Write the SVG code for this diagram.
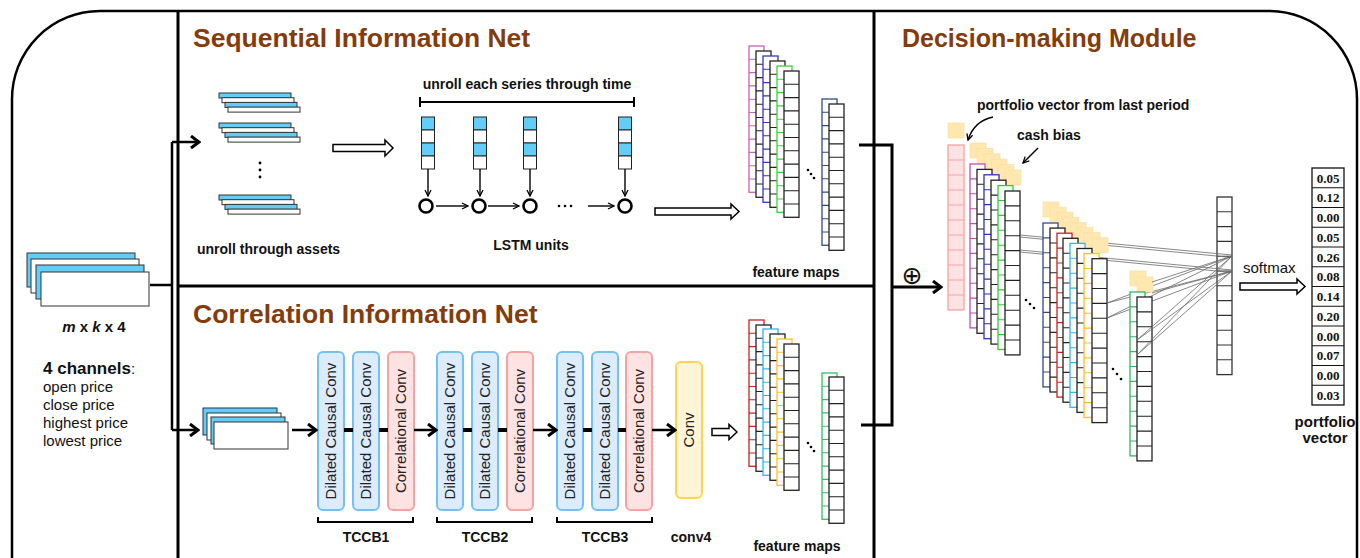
<svg xmlns="http://www.w3.org/2000/svg" xmlns:xlink="http://www.w3.org/1999/xlink" width="1360" height="558" viewBox="0 0 1360 558">
<style>
.t{font-family:"Liberation Sans",Arial,sans-serif;font-weight:bold;font-size:25px;fill:#843C0C}
.b{font-family:"Liberation Sans",Arial,sans-serif;font-weight:bold;font-size:14px;fill:#111}
.n{font-family:"Liberation Sans",Arial,sans-serif;font-size:15px;fill:#111}
.v{font-family:"Liberation Serif","Times New Roman",serif;font-weight:bold;font-size:13px;fill:#111}
.blk{font-family:"Liberation Sans",Arial,sans-serif;font-size:15px;fill:#222}
.cy{fill:#62cdf7;stroke:#333;stroke-width:1}
.wh{fill:#fff;stroke:#333;stroke-width:1}
.dcc{fill:#dcecfc;stroke:#74c0f4;stroke-width:2}
.cor{fill:#ffe2e2;stroke:#f5a3a3;stroke-width:2}
.cv{fill:#fff4d6;stroke:#ffd54f;stroke-width:2}
.sq{fill:#ffe7b0;stroke:#fde0a8;stroke-width:0.8}
.ln{fill:none;stroke:#000;stroke-width:2.5}
.thin{fill:none;stroke:#000;stroke-width:1.4}
.fc{fill:none;stroke:#6a6a6a;stroke-width:0.8}
.ha{fill:#fff;stroke:#000;stroke-width:1.5}
</style>
<defs>
<marker id="ah" viewBox="0 0 12 14" refX="10" refY="7" markerWidth="12" markerHeight="14" markerUnits="userSpaceOnUse" orient="auto"><path d="M2,1 L10,7 L2,13" fill="none" stroke="#000" stroke-width="3"/></marker>
<marker id="ahs" viewBox="0 0 8 8" refX="7" refY="4" markerWidth="8" markerHeight="8" markerUnits="userSpaceOnUse" orient="auto"><path d="M1,1 L7,4 L1,7" fill="none" stroke="#000" stroke-width="1.3"/></marker>
<g id="c11"><rect x="0" y="0" width="15" height="146.3" fill="#fff" stroke="currentColor" stroke-width="1.3"/><path d="M0,13.3H15M0,26.6H15M0,39.9H15M0,53.2H15M0,66.5H15M0,79.8H15M0,93.1H15M0,106.4H15M0,119.7H15M0,133H15" stroke="currentColor" stroke-width="1.1"/></g>
<g id="c11b"><rect x="0" y="0" width="15" height="163.9" fill="#fff" stroke="currentColor" stroke-width="1.3"/><path d="M0,14.9H15M0,29.8H15M0,44.7H15M0,59.6H15M0,74.5H15M0,89.4H15M0,104.3H15M0,119.2H15M0,134.1H15M0,149H15" stroke="currentColor" stroke-width="1.1"/></g>
<rect id="sqr" width="16" height="15" class="sq"/>
</defs>

<rect width="1360" height="558" fill="#fff"/>
<!-- frame -->
<g id="frame">
<rect x="12" y="11" width="1345" height="660" rx="88" fill="none" stroke="#000" stroke-width="2.5"/>
<line x1="178" y1="11" x2="178" y2="558" stroke="#000" stroke-width="3"/>
<line x1="874" y1="11" x2="874" y2="558" stroke="#000" stroke-width="3"/>
<line x1="178" y1="286" x2="874" y2="286" stroke="#000" stroke-width="3"/>
</g>
<text class="t" x="193" y="47" style="font-size:26.5px">Sequential Information Net</text>
<text class="t" x="193" y="323" style="font-size:26.5px">Correlation Information Net</text>
<text class="t" x="902" y="47">Decision-making Module</text>

<!-- input -->
<g id="input">
<rect class="cy" x="27" y="253" width="108" height="34"/>
<rect class="wh" x="31" y="259" width="108" height="34"/>
<rect class="cy" x="36" y="265" width="108" height="34"/>
<rect class="wh" x="41" y="272" width="108" height="34"/>
<text class="b" x="94" y="332" text-anchor="middle" style="font-size:15px"><tspan font-style="italic">m</tspan> x <tspan font-style="italic">k</tspan> x 4</text>
<text class="n" x="43" y="374"><tspan font-weight="bold" font-size="17">4 channels</tspan>:</text>
<text class="n" x="43" y="392">open price</text>
<text class="n" x="43" y="410">close price</text>
<text class="n" x="43" y="428">highest price</text>
<text class="n" x="43" y="446">lowest price</text>
</g>

<!-- sequential net -->
<g id="assets">
<rect class="cy" x="219" y="93" width="72" height="5" stroke-width="0.8"/>
<rect class="wh" x="222" y="97.7" width="72" height="5" stroke-width="0.8"/>
<rect class="cy" x="225" y="102.4" width="72" height="5" stroke-width="0.8"/>
<rect class="wh" x="228" y="107.1" width="72" height="5" stroke-width="0.8"/>
<rect class="cy" x="219" y="123" width="72" height="5" stroke-width="0.8"/>
<rect class="wh" x="222" y="127.7" width="72" height="5" stroke-width="0.8"/>
<rect class="cy" x="225" y="132.4" width="72" height="5" stroke-width="0.8"/>
<rect class="wh" x="228" y="137.1" width="72" height="5" stroke-width="0.8"/>
<circle cx="260" cy="163" r="1.4"/><circle cx="260" cy="170" r="1.4"/><circle cx="260" cy="177" r="1.4"/>
<rect class="cy" x="219" y="195" width="72" height="5" stroke-width="0.8"/>
<rect class="wh" x="222" y="199.7" width="72" height="5" stroke-width="0.8"/>
<rect class="cy" x="225" y="204.4" width="72" height="5" stroke-width="0.8"/>
<rect class="wh" x="228" y="209.1" width="72" height="5" stroke-width="0.8"/>
<text class="b" x="197" y="254">unroll through assets</text>
</g>
<polygon id="harrow1" class="ha" points="333,144.5 385,144.5 385,140 393,148 385,156 385,151.5 333,151.5"/>

<g id="lstm">
<text class="b" x="527" y="89" text-anchor="middle">unroll each series through time</text>
<path d="M420,97V107M420,102H634M634,97V107" fill="none" stroke="#000" stroke-width="2"/>
<g stroke="#222" stroke-width="1">
<rect x="421.5" y="117" width="13" height="13" fill="#62cdf7"/><rect x="421.5" y="130" width="13" height="13" fill="#fff"/><rect x="421.5" y="143" width="13" height="13" fill="#62cdf7"/><rect x="421.5" y="156" width="13" height="13" fill="#fff"/>
<rect x="473.5" y="117" width="13" height="13" fill="#62cdf7"/><rect x="473.5" y="130" width="13" height="13" fill="#fff"/><rect x="473.5" y="143" width="13" height="13" fill="#62cdf7"/><rect x="473.5" y="156" width="13" height="13" fill="#fff"/>
<rect x="523.5" y="117" width="13" height="13" fill="#62cdf7"/><rect x="523.5" y="130" width="13" height="13" fill="#fff"/><rect x="523.5" y="143" width="13" height="13" fill="#62cdf7"/><rect x="523.5" y="156" width="13" height="13" fill="#fff"/>
<rect x="618.5" y="117" width="13" height="13" fill="#62cdf7"/><rect x="618.5" y="130" width="13" height="13" fill="#fff"/><rect x="618.5" y="143" width="13" height="13" fill="#62cdf7"/><rect x="618.5" y="156" width="13" height="13" fill="#fff"/>
</g>
<g fill="#fff" stroke="#000" stroke-width="2.6">
<circle cx="426" cy="206" r="6.5"/><circle cx="479" cy="206" r="6.5"/><circle cx="530" cy="206" r="6.5"/><circle cx="625" cy="206" r="6.5"/>
</g>
<g class="thin" marker-end="url(#ahs)">
<line x1="428" y1="169" x2="428" y2="196"/>
<line x1="480" y1="169" x2="480" y2="196"/>
<line x1="530" y1="169" x2="530" y2="196"/>
<line x1="625" y1="169" x2="625" y2="196"/>
<line x1="436" y1="206" x2="468" y2="206"/>
<line x1="488" y1="206" x2="519" y2="206"/>
<line x1="588" y1="206" x2="614" y2="206"/>
</g>
<circle cx="559" cy="206" r="1.3"/><circle cx="565" cy="206" r="1.3"/><circle cx="571" cy="206" r="1.3"/>
<text class="b" x="531" y="250" text-anchor="middle">LSTM units</text>
</g>
<polygon id="harrow2" class="ha" points="655,208 731,208 731,204 739,211.5 731,219 731,215 655,215"/>

<g id="fmaps1">
<use xlink:href="#c11" x="749" y="46" style="color:#d060b8"/>
<use xlink:href="#c11" x="756" y="51" style="color:#222"/>
<use xlink:href="#c11" x="763" y="56" style="color:#3434c8"/>
<use xlink:href="#c11" x="770" y="61" style="color:#222"/>
<use xlink:href="#c11" x="777" y="66" style="color:#3ad03a"/>
<use xlink:href="#c11" x="784" y="71" style="color:#222"/>
<circle cx="808" cy="170" r="1.3"/><circle cx="811" cy="174" r="1.3"/><circle cx="814" cy="178" r="1.3"/>
<use xlink:href="#c11" x="822" y="99" style="color:#2e4c8c"/>
<use xlink:href="#c11" x="829" y="104" style="color:#222"/>
<text class="b" x="796" y="277" text-anchor="middle">feature maps</text>
</g>

<!-- correlation net -->
<g id="corrIn">
<rect x="203" y="408" width="74" height="27" fill="#62cdf7" stroke="#235" stroke-width="1"/>
<rect class="wh" x="207" y="413" width="74" height="27"/>
<rect class="cy" x="211" y="417" width="74" height="27"/>
<rect class="wh" x="214" y="422" width="74" height="27"/>
</g>
<g id="tccb1">
<rect class="dcc" x="318" y="352" width="26" height="158" rx="5"/>
<rect class="dcc" x="353" y="352" width="26" height="158" rx="5"/>
<rect class="cor" x="388" y="352" width="26" height="158" rx="5"/>
<text class="blk" text-anchor="middle" transform="translate(336,431) rotate(-90)">Dilated Causal Conv</text>
<text class="blk" text-anchor="middle" transform="translate(371,431) rotate(-90)">Dilated Causal Conv</text>
<text class="blk" text-anchor="middle" transform="translate(406,431) rotate(-90)">Correlational Conv</text>
<path d="M318,517V522H413V517" fill="none" stroke="#000" stroke-width="2"/>
<text class="b" x="366" y="542" text-anchor="middle">TCCB1</text>
</g>
<g id="tccb2">
<rect class="dcc" x="437" y="352" width="26" height="158" rx="5"/>
<rect class="dcc" x="472" y="352" width="26" height="158" rx="5"/>
<rect class="cor" x="507" y="352" width="26" height="158" rx="5"/>
<text class="blk" text-anchor="middle" transform="translate(455,431) rotate(-90)">Dilated Causal Conv</text>
<text class="blk" text-anchor="middle" transform="translate(490,431) rotate(-90)">Dilated Causal Conv</text>
<text class="blk" text-anchor="middle" transform="translate(525,431) rotate(-90)">Correlational Conv</text>
<path d="M437,517V522H532V517" fill="none" stroke="#000" stroke-width="2"/>
<text class="b" x="485" y="542" text-anchor="middle">TCCB2</text>
</g>
<g id="tccb3">
<rect class="dcc" x="557" y="352" width="26" height="158" rx="5"/>
<rect class="dcc" x="592" y="352" width="26" height="158" rx="5"/>
<rect class="cor" x="626" y="352" width="26" height="158" rx="5"/>
<text class="blk" text-anchor="middle" transform="translate(575,431) rotate(-90)">Dilated Causal Conv</text>
<text class="blk" text-anchor="middle" transform="translate(610,431) rotate(-90)">Dilated Causal Conv</text>
<text class="blk" text-anchor="middle" transform="translate(644,431) rotate(-90)">Correlational Conv</text>
<path d="M557,517V522H652V517" fill="none" stroke="#000" stroke-width="2"/>
<text class="b" x="605" y="542" text-anchor="middle">TCCB3</text>
</g>
<g id="conv4">
<rect class="cv" x="676" y="362" width="26" height="136" rx="5"/>
<text class="blk" text-anchor="middle" transform="translate(694,430) rotate(-90)">Conv</text>
<text class="b" x="691" y="542" text-anchor="middle">conv4</text>
</g>
<polygon id="harrow3" class="ha" points="712,428.5 729,428.5 729,424.5 737,432 729,439.5 729,435.5 712,435.5"/>

<g id="fmaps2">
<use xlink:href="#c11" x="749" y="320" style="color:#cc2020"/>
<use xlink:href="#c11" x="756" y="325" style="color:#222"/>
<use xlink:href="#c11" x="763" y="329" style="color:#30b4f0"/>
<use xlink:href="#c11" x="770" y="334" style="color:#222"/>
<use xlink:href="#c11" x="777" y="339" style="color:#ffc020"/>
<use xlink:href="#c11" x="784" y="344" style="color:#222"/>
<circle cx="808" cy="443" r="1.3"/><circle cx="811" cy="447" r="1.3"/><circle cx="814" cy="451" r="1.3"/>
<use xlink:href="#c11" x="822" y="373" style="color:#30c060"/>
<use xlink:href="#c11" x="829" y="377" style="color:#222"/>
<text class="b" x="797" y="551" text-anchor="middle">feature maps</text>
</g>

<!-- decision module -->
<g id="lastPV">
<rect class="sq" x="948" y="123" width="16" height="15"/>
<rect x="948" y="145" width="16" height="165" fill="#ffe2e2" stroke="#f5a3a3" stroke-width="1.3"/>
<path d="M948,160H964M948,175H964M948,190H964M948,205H964M948,220H964M948,235H964M948,250H964M948,265H964M948,280H964M948,295H964" stroke="#f5a3a3" stroke-width="1.1"/>
<text class="b" x="977" y="110">portfolio vector from last period</text>
<path d="M993,117 Q974,121 968,140" class="thin" marker-end="url(#ahs)"/>
<text class="b" x="1017" y="140">cash bias</text>
<line x1="1038" y1="148" x2="1023" y2="163" class="thin" marker-end="url(#ahs)"/>
</g>
<g id="group1">
<use xlink:href="#sqr" x="970" y="143"/><use xlink:href="#sqr" x="977" y="148.4"/><use xlink:href="#sqr" x="984" y="153.8"/><use xlink:href="#sqr" x="991" y="159.2"/><use xlink:href="#sqr" x="998" y="164.6"/><use xlink:href="#sqr" x="1005" y="170"/>
<use xlink:href="#c11b" x="970" y="164" style="color:#c050b0"/>
<use xlink:href="#c11b" x="977" y="169.4" style="color:#222"/>
<use xlink:href="#c11b" x="984" y="174.8" style="color:#3030c0"/>
<use xlink:href="#c11b" x="991" y="180.2" style="color:#222"/>
<use xlink:href="#c11b" x="998" y="185.6" style="color:#30cc30"/>
<use xlink:href="#c11b" x="1005" y="191" style="color:#222"/>
<circle cx="1026" cy="300" r="1.3"/><circle cx="1030" cy="304" r="1.3"/><circle cx="1034" cy="308" r="1.3"/>
</g>
<g id="outcol">
<rect x="1217" y="197" width="15" height="177.6" fill="#fff" stroke="#333" stroke-width="1.3"/>
<path d="M1217,211.8H1232M1217,226.6H1232M1217,241.4H1232M1217,256.2H1232M1217,271H1232M1217,285.8H1232M1217,300.6H1232M1217,315.4H1232M1217,330.2H1232M1217,345H1232M1217,359.8H1232" stroke="#333" stroke-width="1.1"/>
</g>
<g id="fc1" class="fc">
<line x1="1020" y1="235" x2="1232" y2="255"/><line x1="1020" y1="237" x2="1232" y2="257.5"/>
<line x1="1020" y1="250" x2="1232" y2="270"/><line x1="1020" y1="252" x2="1232" y2="272.5"/>
</g>
<g id="group2">
<use xlink:href="#sqr" x="1043" y="202"/><use xlink:href="#sqr" x="1050" y="207.1"/><use xlink:href="#sqr" x="1057" y="212.2"/><use xlink:href="#sqr" x="1063" y="217.3"/><use xlink:href="#sqr" x="1070" y="222.4"/><use xlink:href="#sqr" x="1077" y="227.5"/><use xlink:href="#sqr" x="1084" y="232.6"/><use xlink:href="#sqr" x="1092" y="237.7"/>
<use xlink:href="#c11b" x="1043" y="223" style="color:#2e4c8c"/>
<use xlink:href="#c11b" x="1050" y="228.1" style="color:#222"/>
<use xlink:href="#c11b" x="1057" y="233.2" style="color:#cc2020"/>
<use xlink:href="#c11b" x="1063" y="238.3" style="color:#222"/>
<use xlink:href="#c11b" x="1070" y="243.4" style="color:#30b8f0"/>
<use xlink:href="#c11b" x="1077" y="248.5" style="color:#222"/>
<use xlink:href="#c11b" x="1084" y="253.6" style="color:#ffc020"/>
<use xlink:href="#c11b" x="1092" y="258.7" style="color:#222"/>
<circle cx="1113" cy="369" r="1.3"/><circle cx="1117" cy="374" r="1.3"/><circle cx="1121" cy="379" r="1.3"/>
</g>
<g id="fc2" class="fc">
<line x1="1107" y1="303" x2="1232" y2="256"/><line x1="1107" y1="303" x2="1232" y2="271"/>
<line x1="1107" y1="318" x2="1232" y2="256"/><line x1="1107" y1="318" x2="1232" y2="271"/>
</g>
<g id="group3">
<use xlink:href="#sqr" x="1130" y="271"/><use xlink:href="#sqr" x="1137" y="277"/>
<use xlink:href="#c11b" x="1130" y="292" style="color:#30b860"/>
<use xlink:href="#c11b" x="1137" y="297" style="color:#222"/>
</g>
<g id="fc3" class="fc">
<line x1="1137" y1="340" x2="1232" y2="256"/><line x1="1137" y1="340" x2="1232" y2="271"/>
<line x1="1137" y1="355" x2="1232" y2="256"/><line x1="1137" y1="355" x2="1232" y2="271"/>
<line x1="1152" y1="282" x2="1232" y2="256"/><line x1="1152" y1="293" x2="1232" y2="271"/>
</g>

<text class="n" x="1243" y="273">softmax</text>
<polygon id="harrow4" class="ha" points="1240,283 1297,283 1297,279 1305,286.5 1297,294 1297,290 1240,290"/>

<g id="pvec">
<rect x="1312" y="168" width="32" height="237" fill="#fff" stroke="#111" stroke-width="1.3"/>
<path d="M1312,187.75H1344M1312,207.5H1344M1312,227.25H1344M1312,247H1344M1312,266.75H1344M1312,286.5H1344M1312,306.25H1344M1312,326H1344M1312,345.75H1344M1312,365.5H1344M1312,385.25H1344" stroke="#111" stroke-width="1.1"/>
<g text-anchor="middle">
<text class="v" x="1328" y="182.5">0.05</text>
<text class="v" x="1328" y="202.25">0.12</text>
<text class="v" x="1328" y="222">0.00</text>
<text class="v" x="1328" y="241.75">0.05</text>
<text class="v" x="1328" y="261.5">0.26</text>
<text class="v" x="1328" y="281.25">0.08</text>
<text class="v" x="1328" y="301">0.14</text>
<text class="v" x="1328" y="320.75">0.20</text>
<text class="v" x="1328" y="340.5">0.00</text>
<text class="v" x="1328" y="360.25">0.07</text>
<text class="v" x="1328" y="380">0.00</text>
<text class="v" x="1328" y="399.75">0.03</text>
</g>
<text class="b" x="1325" y="427" text-anchor="middle" style="font-size:15px">portfolio</text>
<text class="b" x="1325" y="443" text-anchor="middle" style="font-size:15px">vector</text>
</g>

<!-- connectors -->
<g id="connectors">
<path class="ln" d="M150,285H172M172,142V430"/>
<line class="ln" x1="172" y1="142" x2="199" y2="142" marker-end="url(#ah)"/>
<line class="ln" x1="172" y1="430" x2="198" y2="430" marker-end="url(#ah)"/>
<line class="ln" x1="292" y1="430" x2="316" y2="430" marker-end="url(#ah)"/>
<path d="M344,430H353M379,430H388M463,430H472M498,430H507M583,430H592M618,430H626" stroke="#000" stroke-width="4"/>
<line class="ln" x1="414" y1="430" x2="436" y2="430" marker-end="url(#ah)"/>
<line class="ln" x1="533" y1="430" x2="556" y2="430" marker-end="url(#ah)"/>
<line class="ln" x1="652" y1="430" x2="675" y2="430" marker-end="url(#ah)"/>
<path d="M859,145H892V425H861" fill="none" stroke="#000" stroke-width="3"/>
<line x1="892" y1="287" x2="941" y2="287" stroke="#000" stroke-width="3" marker-end="url(#ah)"/>
<text x="912" y="284" text-anchor="middle" font-family="DejaVu Sans,sans-serif" font-size="25" fill="#111">⊕</text>
</g>
</svg>
